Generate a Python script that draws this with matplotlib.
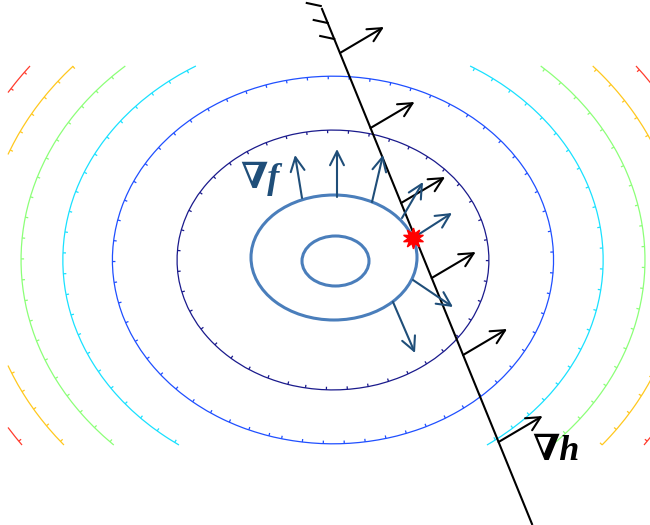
import numpy as np
import matplotlib
matplotlib.use('Agg')
import matplotlib.pyplot as plt
from matplotlib.patches import Ellipse
from matplotlib.collections import LineCollection

# objective f = (x/a)^2 + (y/b)^2, level sets 1..6
f_a, f_b = 156.0, 130.0
levels = [1, 2, 3, 4, 5, 6]
level_colors = ['#1a1a8c', '#1f4fff', '#19e1ff', '#8cff78', '#ffc81e', '#ff3c2d']
grid_x = (-325, 330)
grid_y = (-185, 194)

# constraint line h(x)=0 and its normals
line_top = (-11, 251)
line_bottom = (199, -264)
hatch_y = [254, 237, 221]
grad_h_y = [207, 132, 57, -18, -95, -182]
grad_h_vec = (44, 26)

# level curves of f drawn by hand
ell_outer = (1, 2.5, 166, 125)
ell_inner = (2.5, -1, 67, 50)

# gradient of f on the outer ellipse
grad_f_start = [(-31, 62), (4, 63), (39, 58), (69, 42), (80, 22), (80, -20), (60, -42)]
grad_f_end = [(-38, 105), (4, 111), (50, 105), (90, 78), (119, 47), (120, -47), (82, -93)]

optimum = (80, 22)

fig = plt.figure(figsize=(6.5, 5.25), dpi=100)
ax = fig.add_axes([0, 0, 1, 1])
ax.set_xlim(-333, 317)
ax.set_ylim(-265, 260)
ax.set_aspect('equal')
ax.axis('off')

X, Y = np.meshgrid(np.linspace(grid_x[0], grid_x[1], 70), np.linspace(grid_y[0], grid_y[1], 45))
F = (X / f_a) ** 2 + (Y / f_b) ** 2
cs = ax.contour(X, Y, F, levels=levels, colors=level_colors, linewidths=0.9)

# small ticks along each contour pointing to the centre
for segs, col in zip(cs.allsegs, level_colors):
    ticks = []
    for seg in segs:
        d = np.r_[0, np.cumsum(np.hypot(np.diff(seg[:, 0]), np.diff(seg[:, 1])))]
        for s in np.arange(5, d[-1], 21):
            px = np.interp(s, d, seg[:, 0])
            py = np.interp(s, d, seg[:, 1])
            nx, ny = px / f_a ** 2, py / f_b ** 2
            n = np.hypot(nx, ny)
            ticks.append([(px, py), (px - 3 * nx / n, py - 3 * ny / n)])
    ax.add_collection(LineCollection(ticks, colors=col, linewidths=0.9))

# constraint line with hatching
ax.plot([line_top[0], line_bottom[0]], [line_top[1], line_bottom[1]], color='black', lw=1.5)
slope = (line_bottom[0] - line_top[0]) / (line_top[1] - line_bottom[1])
for hy in hatch_y:
    hx = line_top[0] + (line_top[1] - hy) * slope
    ax.plot([hx, hx - 14], [hy, hy + 3], color='black', lw=1.5)

arrow = '->,head_length=0.5,head_width=0.25'
for gy in grad_h_y:
    gx = line_top[0] + (line_top[1] - gy) * slope
    ax.annotate('', xy=(gx + grad_h_vec[0], gy + grad_h_vec[1]), xytext=(gx, gy),
                arrowprops=dict(arrowstyle=arrow, color='black', lw=1.5,
                                mutation_scale=20, shrinkA=0, shrinkB=0))

for cx, cy, w, h in [ell_outer, ell_inner]:
    ax.add_patch(Ellipse((cx, cy), w, h, fill=False, ec='#4a7ebb', lw=2.2, zorder=3))

for s, e in zip(grad_f_start, grad_f_end):
    ax.annotate('', xy=e, xytext=s,
                arrowprops=dict(arrowstyle=arrow, color='#1f4e79', lw=1.5,
                                mutation_scale=20, shrinkA=0, shrinkB=0), zorder=4)

ax.plot(*optimum, marker=(10, 1, 0), color='red', markersize=15, mec='red', zorder=5)

ax.text(-93, 72, '∇f', family=['Liberation Serif', 'DejaVu Serif'], weight='bold',
        style='italic', fontsize=26, color='#1f4e79')
ax.text(199, -200, '∇h', family=['Liberation Serif', 'DejaVu Serif'], weight='bold',
        style='italic', fontsize=26, color='black')

fig.savefig('out.png', dpi=100)
